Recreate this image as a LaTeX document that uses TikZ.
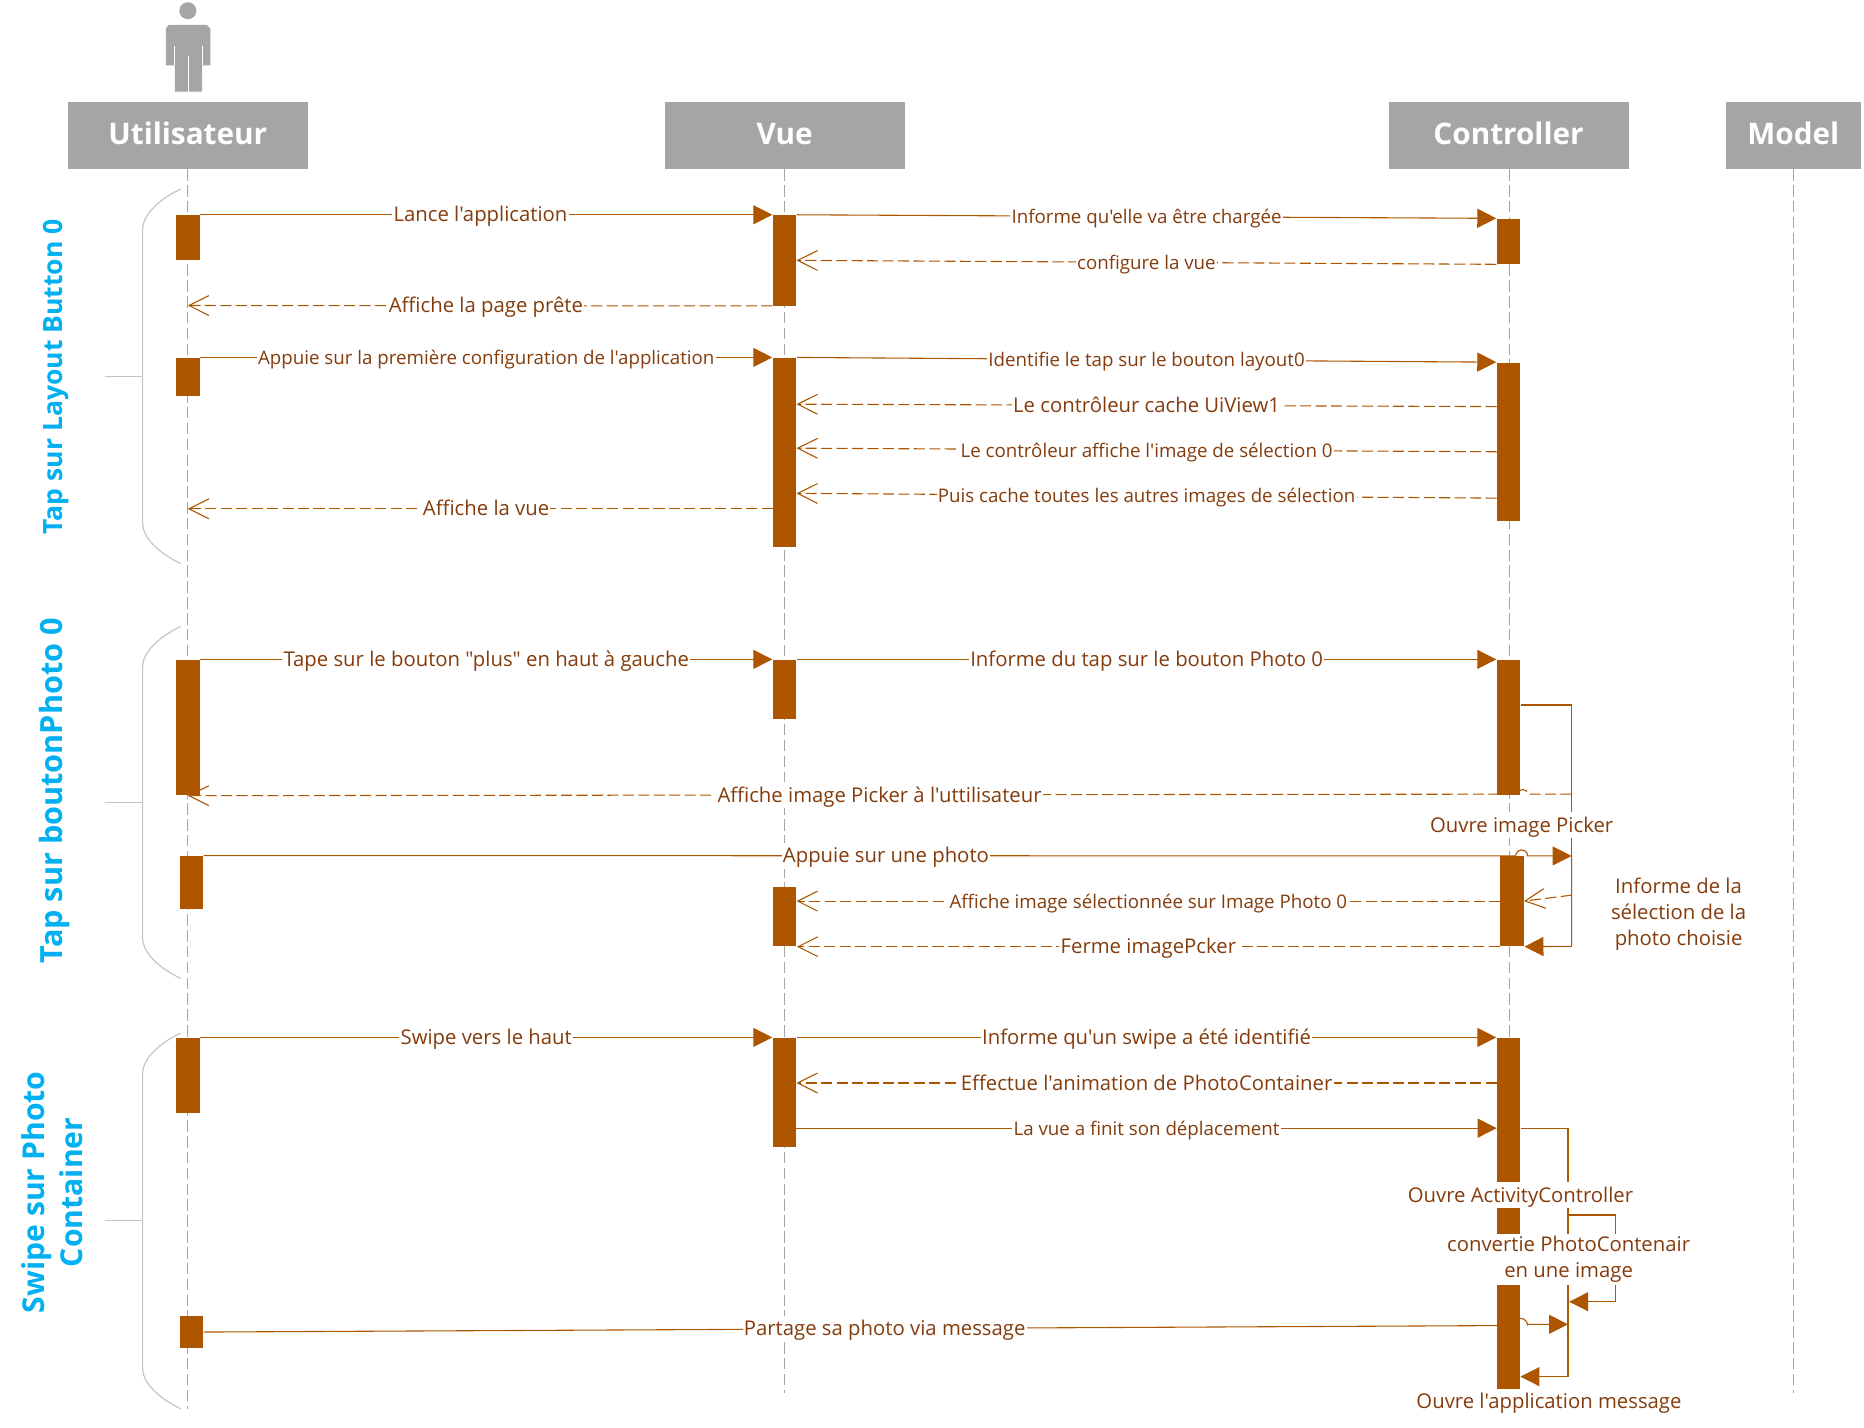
\documentclass[tikz,border=0pt]{standalone}
\usepackage{fontspec}
\setmainfont{Open Sans}
\newfontfamily\labelfont{Open Sans}
\usetikzlibrary{arrows.meta}
\definecolor{barcolor}{HTML}{AE5500}
\definecolor{labelcolor}{HTML}{843C0C}
\definecolor{headcolor}{HTML}{A5A5A5}
\definecolor{lifecolor}{HTML}{A5A5A5}
\definecolor{bracecolor}{HTML}{C4C4C4}
\definecolor{sidecolor}{HTML}{00B0F0}
\tikzset{barnode/.style={rectangle, fill=barcolor, inner sep=0pt, minimum width=12pt, minimum height=#1*0.6pt}}
\begin{document}
\begin{tikzpicture}[x=0.6pt,y=-0.6pt]
        % Define styles for nodes and edges
        \tikzstyle{headnode}=[rectangle, fill=headcolor, text=white, inner sep=0pt, minimum height=33.6pt, text height=11pt, text depth=2.4pt, font=\fontsize{15}{18}\selectfont\bfseries]
        \tikzstyle{lifeline}=[lifecolor, line width=0.6pt, dash pattern=on 5.8pt off 2.2pt]
        \tikzstyle{bracket}=[bracecolor, line width=0.6pt]
        \tikzstyle{sidelabel}=[rotate=90, text=sidecolor, align=center, inner sep=0pt, font=\fontsize{15.2}{19.4}\selectfont\bfseries]
        \tikzstyle{msglabel}=[fill=white, text=labelcolor, inner xsep=0.6pt, inner ysep=1.8pt, text height=8.4pt, text depth=1.2pt, font=\labelfont\fontsize{10.25}{12}\selectfont]
        \tikzstyle{msgsmall}=[msglabel, font=\labelfont\fontsize{9.45}{12}\selectfont]
        \tikzstyle{call}=[barcolor, line width=0.55pt, -{Triangle[length=9.6pt,width=9.6pt]}]
        \tikzstyle{answer}=[barcolor, line width=0.55pt, dash pattern=on 5.6pt off 2.2pt, -{Straight Barb[length=10pt,width=10pt]}]

        \useasboundingbox (0,0) rectangle (1568,1200.4);

        % Actor
        \node[circle, fill=headcolor, inner sep=0pt, minimum size=8.6pt] (actorhead) at (158,9) {};
        \fill[headcolor] (142,21) -- (174,21) -- (177,24) -- (177,55) -- (170,55) -- (170,77) -- (147,77) -- (147,55) -- (139.5,55) -- (139.5,24) -- cycle;
        \draw[white, line width=0.5pt] (147,39) -- (147,55) (170,39) -- (170,55) (158.5,47) -- (158.5,77);

        % Define headers
        \node[headnode, minimum width=121.2pt] (user) at (158,114) {Utilisateur};
        \node[headnode, minimum width=121.2pt] (view) at (660,114) {Vue};
        \node[headnode, minimum width=121.2pt] (ctrl) at (1269,114) {Controller};
        \node[headnode, minimum width=68pt] (model) at (1508.5,114) {Model};

        % Define lifeline ends
        \coordinate (userend) at (158,1185);
        \coordinate (viewend) at (660,1172);
        \coordinate (ctrlend) at (1270,1172);
        \coordinate (modelend) at (1509,1172);

        % Draw lifelines
        \draw[lifeline] (user.south) -- (userend);
        \draw[lifeline] (view.south) -- (viewend);
        \draw[lifeline] (ctrl.south -| ctrlend) -- (ctrlend);
        \draw[lifeline] (model.south -| modelend) -- (modelend);

        % Brackets and their titles
        \draw[bracket] (152,159) .. controls (135,167) and (120,180) .. (120,193) -- (120,440) .. controls (120,453) and (135,466) .. (152,474);
        \draw[bracket] (88,317) -- (120,317);
        \draw[bracket] (152,527) .. controls (135,535) and (120,548) .. (120,561) -- (120,789) .. controls (120,802) and (135,815) .. (152,823);
        \draw[bracket] (88,675) -- (120,675);
        \draw[bracket] (152,869) .. controls (135,877) and (120,890) .. (120,903) -- (120,1151) .. controls (120,1164) and (135,1177) .. (152,1185);
        \draw[bracket] (88,1027) -- (120,1027);
        \node[sidelabel, font=\fontsize{13.4}{17}\selectfont\bfseries] (side1) at (47.5,317) {Tap sur Layout Button 0};
        \node[sidelabel, font=\fontsize{15.45}{17}\selectfont\bfseries] (side2) at (45.5,665) {Tap sur boutonPhoto 0};
        \node[sidelabel] (side3) at (44,1003) {Swipe sur Photo\\Container};

        % Define activation bars
        \node[barnode=38] (u1) at (158,200) {};
        \node[barnode=32] (u2) at (158,317) {};
        \node[barnode=114] (u3) at (158,612) {};
        \node[barnode=45] (u4) at (161,742.5) {};
        \node[barnode=63] (u5) at (158,904.5) {};
        \node[barnode=27] (u6) at (161,1120.5) {};
        \node[barnode=76] (v1) at (660,219) {};
        \node[barnode=159] (v2) at (660,380.5) {};
        \node[barnode=50] (v3) at (660,580) {};
        \node[barnode=50] (v4) at (660,771) {};
        \node[barnode=92] (v5) at (660,919) {};
        \node[barnode=38] (c1) at (1269,203) {};
        \node[barnode=133] (c2) at (1269,371.5) {};
        \node[barnode=114] (c3) at (1269,612) {};
        \node[barnode=76] (c4) at (1272,758) {};
        \node[barnode=295] (c5) at (1269,1020.5) {};

        % Define free ends
        \coordinate (a1) at (670,219);
        \coordinate (a2) at (158,257);
        \coordinate (b1) at (1259,342);
        \coordinate (b2) at (670,340);
        \coordinate (b3) at (1259,380);
        \coordinate (b4) at (670,377);
        \coordinate (b5) at (1259,419);
        \coordinate (b6) at (670,415);
        \coordinate (b7) at (650,428);
        \coordinate (b8) at (158,428);
        \coordinate (d1) at (1322,593);
        \coordinate (d2) at (1322,796);
        \coordinate (d3) at (1322,668);
        \coordinate (d4) at (1285,668);
        \coordinate (d5) at (1277,668);
        \coordinate (d6) at (1275,720);
        \coordinate (d8) at (1322,720);
        \coordinate (d9) at (1262,758);
        \coordinate (d10) at (670,758);
        \coordinate (d11) at (1322,753);
        \coordinate (d12) at (1282,758);
        \coordinate (e1) at (1259,911);
        \coordinate (e2) at (670,911);
        \coordinate (e3) at (670,949);
        \coordinate (e4) at (1259,949);
        \coordinate (e5) at (1319,949);
        \coordinate (e6) at (1319,1158);
        \coordinate (e7) at (1279,1158);
        \coordinate (e8) at (1319,1022);
        \coordinate (e9) at (1359,1022);
        \coordinate (e10) at (1359,1095);
        \coordinate (e11) at (1320,1095);
        \coordinate (e12) at (1273,1115);
        \coordinate (e13) at (1285,1114);
        \coordinate (e14) at (1319,1114);

        % Draw first group
        \draw[call] (u1.north east) -- node[msglabel, pos=0.49] (m1) {Lance l'application} (v1.north west);
        \draw[call] (v1.north east) -- node[msgsmall] (m2) {Informe qu'elle va être chargée} (c1.north west);
        \draw[answer] (c1.south west) -- node[msgsmall] (m3) {configure la vue} (a1);
        \draw[answer] (v1.south west) -- node[msglabel, pos=0.49] (m4) {Affiche la page prête} (a2);
        \draw[call] (u2.north east) -- node[msgsmall] (m5) {Appuie sur la première configuration de l'application} (v2.north west);
        \draw[call] (v2.north east) -- node[msgsmall] (m6) {Identifie le tap sur le bouton layout0} (c2.north west);
        \draw[answer] (b1) -- node[msglabel] (m7) {Le contrôleur cache UiView1} (b2);
        \draw[answer] (b3) -- node[msgsmall] (m8) {Le contrôleur affiche l'image de sélection 0} (b4);
        \draw[answer] (b5) -- node[msgsmall] (m9) {Puis cache toutes les autres images de sélection} (b6);
        \draw[answer] (b7) -- node[msglabel, pos=0.49] (m10) {Affiche la vue} (b8);

        % Draw second group
        \draw[call] (u3.north east) -- node[msglabel] (m11) {Tape sur le bouton "plus" en haut à gauche} (v3.north west);
        \draw[call] (v3.north east) -- node[msglabel] (m12) {Informe du tap sur le bouton Photo 0} (c3.north west);
        \draw[barcolor, line width=0.55pt] (c3.east |- d1) -- (d1) -- (d8);
        \draw[call] (d8) -- (d2) -- (c4.south east);
        \draw[answer] (d3) -- (d4) arc[start angle=0, end angle=-180, radius=4] -- (d5) -- node[msglabel, pos=0.48] (m13) {Affiche image Picker à l'uttilisateur} (u3.south);
        \draw[call] (u4.north east) -- node[msglabel, pos=0.52] (m14) {Appuie sur une photo} (d6) arc[start angle=180, end angle=360, radius=5] -- (d8);
        \draw[answer] (d9) -- node[msgsmall] (m15) {Affiche image sélectionnée sur Image Photo 0} (d10);
        \draw[answer] (c4.south west) -- node[msglabel] (m16) {Ferme imagePcker} (v4.south east);
        \draw[answer] (d11) -- (d12);

        % Draw third group
        \draw[call] (u5.north east) -- node[msglabel] (m17) {Swipe vers le haut} (v5.north west);
        \draw[call] (v5.north east) -- node[msglabel] (m18) {Informe qu'un swipe a été identifié} (c5.north west);
        \draw[answer] (e1) -- node[msglabel] (m19) {Effectue l'animation de PhotoContainer} (e2);
        \draw[call] (e3) -- node[msgsmall] (m20) {La vue a finit son déplacement} (e4);
        \draw[call] (c5.east |- e5) -- (e5) -- (e6) -- (e7);
        \draw[call] (e8) -- (e9) -- (e10) -- (e11);
        \draw[call] (u6.east) -- node[msglabel, pos=0.52] (m21) {Partage sa photo via message} (e12) arc[start angle=180, end angle=360, radius=6] -- (e13) -- (e14);

        % Self call labels
        \node[msglabel] (s1) at (1280,694) {Ouvre image Picker};
        \node[msglabel, align=center, text height=, text depth=, font=\labelfont\fontsize{10.25}{12.9}\selectfont] (s2) at (1412,769) {Informe de la\\sélection de la\\photo choisie};
        \node[msglabel] (s3) at (1279,1005.5) {Ouvre ActivityController};
        \node[msglabel, align=center, text height=, text depth=, inner ysep=1.4pt, font=\labelfont\fontsize{10.25}{13}\selectfont] (s4) at (1319.5,1059.5) {convertie PhotoContenair\\en une image};
        \node[msglabel] (s5) at (1303,1179) {Ouvre l'application message};
\end{tikzpicture}
\end{document}
